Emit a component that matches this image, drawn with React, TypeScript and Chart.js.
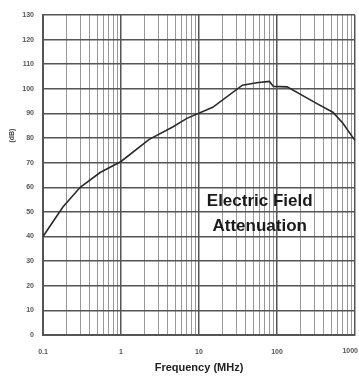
import React, { useEffect, useRef } from "react";
import { Chart, registerables } from "chart.js";

Chart.register(...registerables);

const frequencyMHz = [0.1, 0.18, 0.3, 0.54, 1, 2.3, 4.6, 7, 15, 36, 55, 80, 90, 135, 325, 520, 700, 1000];
const attenuationDb = [40, 52, 60, 66, 70.5, 79.5, 84.5, 88, 92.5, 101.5, 102.5, 103, 101, 100.8, 94, 90.5, 86, 79];
const xTickLabels = ["0.1", "1", "10", "100", "1000"];
const xTickValues = [0.1, 1, 10, 100, 1000];
const yMin = 0;
const yMax = 130;
const yStep = 10;
const annotationLines = ["Electric Field", "Attenuation"];
const yTitle = "(dB)";
const xTitle = "Frequency (MHz)";

const FONT = "'Liberation Sans', Arial, sans-serif";

const isDecade = (v: number) => {
  const l = Math.log10(v);
  return Math.abs(l - Math.round(l)) < 1e-6;
};

const textPlugin = {
  id: "extraText",
  afterDraw(chart: any) {
    const { ctx, scales } = chart;
    ctx.save();
    ctx.fillStyle = "#1a1a1a";
    ctx.font = `bold 17px ${FONT}`;
    ctx.textAlign = "center";
    ctx.textBaseline = "middle";
    const cx = scales.x.getPixelForValue(60);
    const y1 = scales.y.getPixelForValue(54.5);
    const y2 = scales.y.getPixelForValue(44);
    ctx.fillText(annotationLines[0], cx, y1);
    ctx.fillText(annotationLines[1], cx, y2);
    // last x tick label, right-aligned so it stays inside the canvas
    ctx.font = `bold 7px ${FONT}`;
    ctx.fillStyle = "#555";
    ctx.textAlign = "right";
    ctx.fillText(xTickLabels[xTickLabels.length - 1], chart.width - 1, scales.x.top + 16.5);
    // y title
    ctx.textAlign = "center";
    ctx.translate(12, scales.y.getPixelForValue(81));
    ctx.rotate(-Math.PI / 2);
    ctx.fillStyle = "#444";
    ctx.fillText(yTitle, 0, 0);
    ctx.restore();
  },
};

export default function App() {
  const ref = useRef<HTMLCanvasElement>(null);
  useEffect(() => {
    if (!ref.current) return;
    const chart = new Chart(ref.current, {
      type: "line",
      data: {
        datasets: [
          {
            data: frequencyMHz.map((f, i) => ({ x: f, y: attenuationDb[i] })),
            borderColor: "#2a2a2a",
            borderWidth: 1.6,
            pointRadius: 0,
            tension: 0,
            fill: false,
          },
        ],
      },
      options: {
        animation: false,
        responsive: false,
        layout: { padding: { top: 15, right: 4, left: 0, bottom: 0 } },
        plugins: { legend: { display: false }, tooltip: { enabled: false } },
        scales: {
          x: {
            type: "logarithmic",
            min: 0.1,
            max: 1000,
            afterFit: (s: any) => {
              s.height = 41;
              s.paddingLeft = 0;
              s.paddingRight = 0;
            },
            afterBuildTicks: (s: any) => {
              const t: any[] = [];
              for (let d = 0; d < xTickValues.length; d++) {
                const base = xTickValues[d];
                if (d === xTickValues.length - 1) {
                  t.push({ value: base });
                } else {
                  for (let m = 1; m <= 9; m++) t.push({ value: base * m });
                }
              }
              s.ticks = t;
            },
            grid: {
              drawTicks: false,
              color: (c: any) => (c.tick && isDecade(c.tick.value) ? "#555" : "#999"),
              lineWidth: (c: any) => (c.tick && isDecade(c.tick.value) ? 1.5 : 1),
            },
            border: { color: "#555", width: 2 },
            ticks: {
              autoSkip: false,
              maxRotation: 0,
              padding: 13,
              color: "#555",
              font: { family: FONT, size: 7, weight: "bold" },
              callback: (v: any) => {
                const val = Number(v);
                const idx = xTickValues.findIndex((t) => Math.abs(t - val) / t < 1e-6);
                if (idx === xTickValues.length - 1) return "";
                return idx >= 0 ? xTickLabels[idx] : "";
              },
            },
            title: {
              display: true,
              text: xTitle,
              color: "#222",
              font: { family: FONT, size: 11, weight: "bold" },
              padding: { top: 0, bottom: 1 },
            },
          },
          y: {
            min: yMin,
            max: yMax,
            afterFit: (s: any) => {
              s.width = 43;
            },
            grid: {
              drawTicks: false,
              color: "#555",
              lineWidth: 1.6,
            },
            border: { color: "#555", width: 2 },
            ticks: {
              stepSize: yStep,
              padding: 9,
              color: "#555",
              font: { family: FONT, size: 7, weight: "bold" },
            },
          },
        },
      },
      plugins: [textPlugin],
    });
    return () => chart.destroy();
  }, []);
  return (
    <div style={{ position: "absolute", left: 0, top: 0, width: 359, height: 376, background: "#fff" }}>
      <canvas ref={ref} width={359} height={376} />
    </div>
  );
}
